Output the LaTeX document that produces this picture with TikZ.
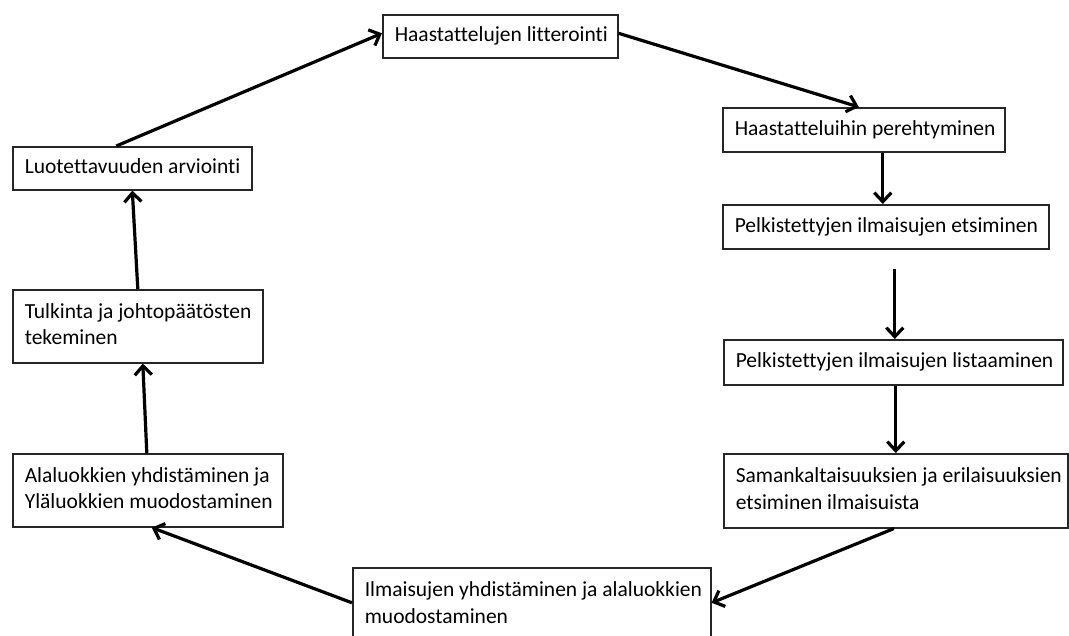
\documentclass[tikz,border=0pt]{standalone}
\usepackage{fontspec}
\setmainfont{Carlito}[Ligatures=NoCommon]
\usetikzlibrary{arrows.meta}

% left-aligned block of lines of fixed width
\newcommand{\boxtext}[2]{\makebox[#1][l]{\begin{tabular}{@{}l@{}}#2\end{tabular}}}

\tikzset{
  stagebox/.style={draw=black!85, line width=1.6pt, rectangle, anchor=north west,
    inner xsep=12pt, inner ysep=0pt, font=\fontsize{21.5}{26.5}\selectfont},
  flow/.style={line width=3.2pt, -{Straight Barb[length=9pt,width=17pt]}},
}

\begin{document}
\begin{tikzpicture}[x=1pt, y=-1pt]
\useasboundingbox (0,0) rectangle (1069,636);

% stages, clockwise from the top
\node[stagebox, minimum height=43pt] (n1) at (382,14)
  {\boxtext{211pt}{Haastattelujen litterointi}};
\node[stagebox, minimum height=44pt] (n2) at (722,107)
  {\boxtext{258pt}{Haastatteluihin perehtyminen}};
\node[stagebox, minimum height=44pt] (n3) at (722,204)
  {\boxtext{302pt}{Pelkistettyjen ilmaisujen etsiminen}};
\node[stagebox, minimum height=45pt] (n4) at (723,339)
  {\boxtext{315pt}{Pelkistettyjen ilmaisujen listaaminen}};
\node[stagebox, minimum height=74pt] (n5) at (723,453)
  {\boxtext{320pt}{Samankaltaisuuksien ja erilaisuuksien\\etsiminen ilmaisuista}};
\node[stagebox, minimum height=74pt] (n6) at (352,567)
  {\boxtext{334pt}{Ilmaisujen yhdistäminen ja alaluokkien\\muodostaminen}};
\node[stagebox, minimum height=73pt] (n7) at (12,453)
  {\boxtext{246pt}{Alaluokkien yhdistäminen ja\\Yläluokkien muodostaminen}};
\node[stagebox, minimum height=73pt] (n8) at (12,289)
  {\boxtext{226pt}{Tulkinta ja johtopäätösten\\tekeminen}};
\node[stagebox, minimum height=43pt] (n9) at (12,146)
  {\boxtext{215pt}{Luotettavuuden arviointi}};

% connectors
\draw[flow] ([xshift=-16pt]n9.north) -- ([yshift=3pt]n1.west);
\draw[flow] ([yshift=3pt]n1.east) -- ([xshift=-5pt]n2.north);
\draw[flow] ([xshift=19pt]n2.south) -- ([xshift=-3pt]n3.north);
\draw[flow] ([xshift=9pt,yshift=-19pt]n3.south) -- ([xshift=1.5pt]n4.north);
\draw[flow] ([xshift=2.5pt]n4.south) -- (n5.north);
\draw[flow] ([xshift=-2pt]n5.south) -- ([yshift=2pt]n6.east);
\draw[flow] ([yshift=2pt]n6.west) -- ([xshift=4pt]n7.south);
\draw[flow] ([xshift=-1pt]n7.north) -- ([xshift=5pt]n8.south);
\draw[flow] (n8.north) -- (n9.south);
\end{tikzpicture}
\end{document}
